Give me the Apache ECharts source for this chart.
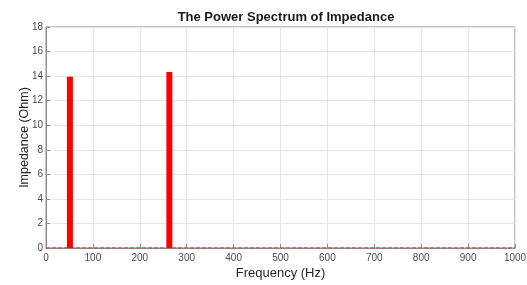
<!DOCTYPE html>
<html>
<head>
<meta charset="utf-8">
<title>The Power Spectrum of Impedance</title>
<script src="https://cdn.jsdelivr.net/npm/echarts@6/dist/echarts.min.js"></script>
<style>
  html, body { margin: 0; padding: 0; background: #fff; }
  #main { width: 527px; height: 285px; }
</style>
</head>
<body>
<div id="main"></div>
<script>
// 频谱峰值 (Hz, Ohm)
var peakFreq = [51, 263];
var peakImp = [13.95, 14.33];
// 零基线
var baseFreq = [0, 1000];
var baseImp = [0, 0];

var chart = echarts.init(document.getElementById('main'));

var peaks = peakFreq.map(function (f, i) { return [f, peakImp[i]]; });
var base = baseFreq.map(function (f, i) { return [f, baseImp[i]]; });

var tickLabel = { color: '#4d4d4d', fontSize: 10, fontFamily: 'Liberation Sans, Arial' };
var axisLine = { show: true, lineStyle: { color: '#8c8c8c', width: 1 } };
var gridLine = { show: true, lineStyle: { color: '#e6e6e6', width: 1 } };

chart.setOption({
    animation: false,
    title: {
        text: 'The Power Spectrum of Impedance',
        left: 281, top: 6, textAlign: 'center',
        textStyle: { fontSize: 13, fontWeight: 'bold', color: '#1a1a1a', fontFamily: 'Liberation Sans, Arial' }
    },
    grid: {
        left: 46, right: 12, top: 27, bottom: 37,
        outerBoundsMode: 'none', containLabel: false,
        show: true, borderColor: '#8c8c8c', borderWidth: 1, backgroundColor: '#fff'
    },
    xAxis: {
        type: 'value', min: 0, max: 1000, interval: 100,
        name: 'Frequency (Hz)', nameLocation: 'middle', nameGap: 19, nameMoveOverlap: false,
        nameTextStyle: { fontSize: 13, color: '#262626', fontFamily: 'Liberation Sans, Arial' },
        axisLine: axisLine,
        axisTick: { show: true, inside: true, length: 4, lineStyle: { color: '#8c8c8c' } },
        axisLabel: Object.assign({ margin: 5, formatter: function (v) { return String(v); } }, tickLabel),
        splitLine: gridLine
    },
    yAxis: {
        type: 'value', min: 0, max: 18, interval: 2,
        name: 'Impedance (Ohm)', nameLocation: 'middle', nameGap: 14.5, nameMoveOverlap: false,
        nameTextStyle: { fontSize: 12.5, color: '#262626', fontFamily: 'Liberation Sans, Arial' },
        axisLine: axisLine,
        axisTick: { show: true, inside: true, length: 4, lineStyle: { color: '#8c8c8c' } },
        axisLabel: Object.assign({ margin: 3 }, tickLabel),
        splitLine: gridLine
    },
    series: [
        {
            type: 'line', data: base, symbol: 'none',
            lineStyle: { color: '#e41a1c', width: 1, type: [4, 2] },
            z: 3
        },
        {
            type: 'bar', data: peaks, barWidth: 6,
            itemStyle: { color: '#ff0000' },
            z: 4
        }
    ]
});
</script>
</body>
</html>
